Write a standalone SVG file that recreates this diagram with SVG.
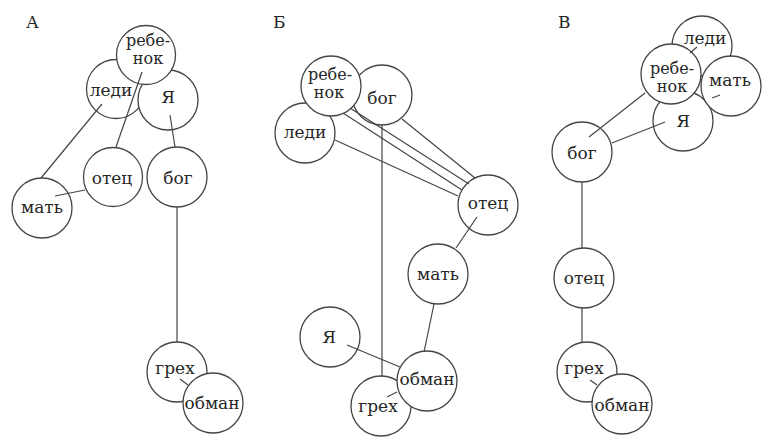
<svg xmlns="http://www.w3.org/2000/svg" width="772" height="448" viewBox="0 0 772 448">
<style>
.n{fill:#fff;stroke:#454545;stroke-width:1.3}
.t{font-family:"DejaVu Serif","Liberation Serif",serif;font-size:17px;fill:#262626;text-anchor:middle}
.t2{font-size:16px}
.lb{font-family:"DejaVu Serif","Liberation Serif",serif;font-size:17px;fill:#262626}
.e line{stroke:#454545;stroke-width:1.2}
</style>
<rect width="772" height="448" fill="#fff"/>
<text class="lb" x="26" y="28">А</text>
<text class="lb" x="273" y="28">Б</text>
<text class="lb" x="558" y="28">В</text>

<!-- Panel A -->
<g id="a-ledi"><circle class="n" cx="116" cy="89" r="29.5"/><text class="t" x="111" y="96">леди</text></g>
<g id="a-ya"><circle class="n" cx="168" cy="100" r="30"/><text class="t" x="168" y="103">Я</text></g>
<g id="a-rebenok"><circle class="n" cx="146" cy="55" r="29.5"/><text class="t t2" x="148" y="46">ребе-</text><text class="t t2" x="148" y="64">нок</text></g>
<g id="a-otec"><circle class="n" cx="113" cy="177" r="29.5"/><text class="t" x="112" y="184">отец</text></g>
<g id="a-bog"><circle class="n" cx="177" cy="177" r="30"/><text class="t" x="178" y="184">бог</text></g>
<g id="a-mat"><circle class="n" cx="42" cy="208" r="30"/><text class="t" x="42" y="213">мать</text></g>
<g id="a-greh"><circle class="n" cx="177" cy="372" r="30"/><text class="t" x="175" y="374">грех</text></g>
<g id="a-obman"><circle class="n" cx="213" cy="403" r="30"/><text class="t" x="212" y="409">обман</text></g>

<!-- Panel Б -->
<g id="b-ledi"><circle class="n" cx="305" cy="133" r="30"/><text class="t" x="305" y="138">леди</text></g>
<g id="b-bog"><circle class="n" cx="382" cy="95" r="30"/><text class="t" x="382" y="104">бог</text></g>
<g id="b-rebenok"><circle class="n" cx="331" cy="86" r="30"/><text class="t t2" x="330" y="80">ребе-</text><text class="t t2" x="329" y="98">нок</text></g>
<g id="b-otec"><circle class="n" cx="488" cy="205" r="30"/><text class="t" x="488" y="209">отец</text></g>
<g id="b-mat"><circle class="n" cx="438" cy="274" r="30"/><text class="t" x="438" y="280">мать</text></g>
<g id="b-ya"><circle class="n" cx="330" cy="337" r="30"/><text class="t" x="329" y="343">Я</text></g>
<g id="b-greh"><circle class="n" cx="381" cy="406" r="30"/><text class="t" x="378" y="412">грех</text></g>
<g id="b-obman"><circle class="n" cx="427" cy="381" r="30"/><text class="t" x="427" y="385">обман</text></g>

<!-- Panel В -->
<g id="c-ledi"><circle class="n" cx="702" cy="46" r="30"/><text class="t" x="705" y="44">леди</text></g>
<g id="c-ya"><circle class="n" cx="683" cy="121" r="30"/><text class="t" x="683" y="127">Я</text></g>
<g id="c-mat"><circle class="n" cx="731" cy="86" r="30"/><text class="t" x="730" y="86">мать</text></g>
<g id="c-rebenok"><circle class="n" cx="671" cy="74" r="30"/><text class="t t2" x="672" y="74">ребе-</text><text class="t t2" x="672" y="92">нок</text></g>
<g id="c-bog"><circle class="n" cx="582" cy="152" r="30"/><text class="t" x="582" y="159">бог</text></g>
<g id="c-otec"><circle class="n" cx="584" cy="278" r="30"/><text class="t" x="584" y="284">отец</text></g>
<g id="c-greh"><circle class="n" cx="587" cy="372" r="30"/><text class="t" x="584" y="374">грех</text></g>
<g id="c-obman"><circle class="n" cx="622" cy="404" r="30"/><text class="t" x="622" y="411">обман</text></g>

<g id="edges" class="e">
<line x1="102" y1="104" x2="41" y2="178"/>
<line x1="142" y1="72" x2="116" y2="147"/>
<line x1="85" y1="190" x2="55" y2="196"/>
<line x1="170" y1="115" x2="175" y2="147"/>
<line x1="177" y1="207" x2="177" y2="342"/>
<line x1="180" y1="379" x2="188" y2="385"/>

<line x1="402" y1="119" x2="475" y2="178"/>
<line x1="350" y1="108" x2="469" y2="184"/>
<line x1="343" y1="113" x2="462" y2="190"/>
<line x1="335" y1="140" x2="458" y2="196"/>
<line x1="477" y1="217" x2="456" y2="248"/>
<line x1="382" y1="125" x2="382" y2="376"/>
<line x1="347" y1="345" x2="400" y2="367"/>
<line x1="434" y1="304" x2="424" y2="352"/>
<line x1="387" y1="397" x2="397" y2="392"/>

<line x1="645" y1="93" x2="589" y2="137"/>
<line x1="665" y1="122" x2="612" y2="143"/>
<line x1="697" y1="47" x2="690" y2="53"/>
<line x1="720" y1="95" x2="712" y2="98"/>
<line x1="582" y1="182" x2="582" y2="248"/>
<line x1="582" y1="308" x2="582" y2="343"/>
<line x1="590" y1="380" x2="597" y2="385"/>
</g>
</svg>
